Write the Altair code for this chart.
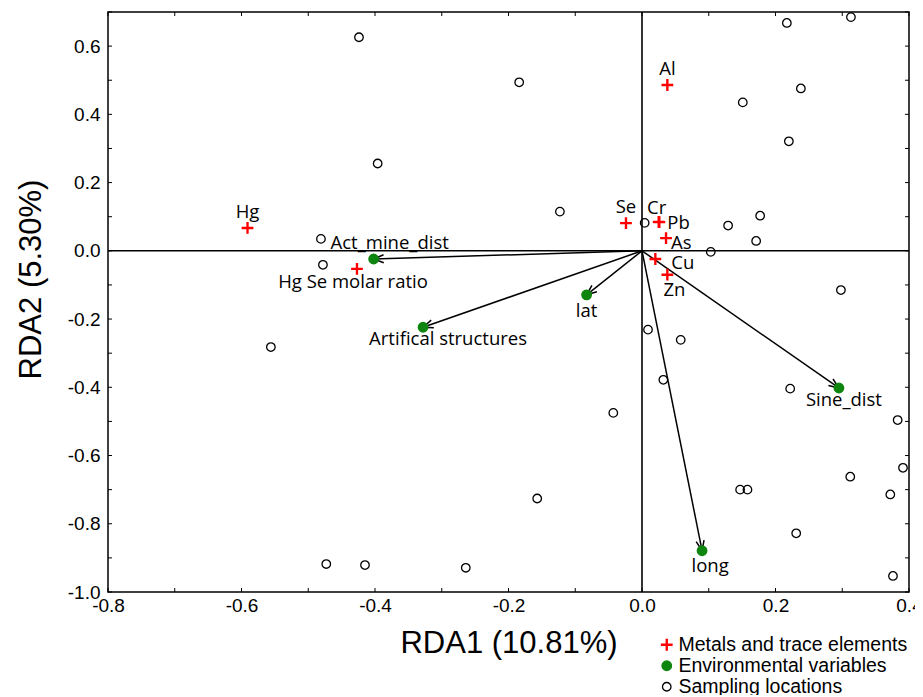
import math
import altair as alt
import pandas as pd

# ---------------- data ----------------
site_x = [-0.424, -0.184, -0.396, -0.123, -0.481, -0.478, -0.556, 0.004, 0.217, 0.313,
          0.151, 0.238, 0.220, 0.177, 0.129, 0.171, 0.103, 0.298, 0.009, 0.058,
          0.032, -0.043, 0.222, 0.383, 0.391, 0.312, 0.372, 0.147, 0.158, 0.231,
          0.376, -0.157, -0.473, -0.415, -0.264]
site_y = [0.626, 0.494, 0.256, 0.115, 0.035, -0.041, -0.282, 0.082, 0.668, 0.685,
          0.435, 0.476, 0.321, 0.103, 0.074, 0.029, -0.003, -0.115, -0.231, -0.261,
          -0.378, -0.475, -0.404, -0.496, -0.636, -0.662, -0.714, -0.700, -0.700, -0.828,
          -0.953, -0.726, -0.918, -0.921, -0.929]

metal_names = ["Al", "Se", "Cr", "Pb", "As", "Cu", "Zn", "Hg", "Hg Se molar ratio"]
metal_x = [0.038, -0.024, 0.025, 0.026, 0.036, 0.020, 0.038, -0.591, -0.427]
metal_y = [0.486, 0.081, 0.085, 0.084, 0.037, -0.024, -0.070, 0.067, -0.053]

env_names = ["Act_mine_dist", "lat", "Artifical structures", "Sine_dist", "long"]
env_x = [-0.402, -0.083, -0.328, 0.295, 0.090]
env_y = [-0.024, -0.129, -0.224, -0.402, -0.879]

groups = ["Metals and trace elements", "Environmental variables", "Sampling locations"]

x_ticks_major = [-0.8, -0.6, -0.4, -0.2, 0.0, 0.2, 0.4]
y_ticks_major = [-1.0, -0.8, -0.6, -0.4, -0.2, 0.0, 0.2, 0.4, 0.6]
x_ticks_all = [-0.8, -0.7, -0.6, -0.5, -0.4, -0.3, -0.2, -0.1, 0.0, 0.1, 0.2, 0.3, 0.4]
y_ticks_all = [-1.0, -0.9, -0.8, -0.7, -0.6, -0.5, -0.4, -0.3, -0.2, -0.1, 0.0,
               0.1, 0.2, 0.3, 0.4, 0.5, 0.6, 0.7]

# ---------------- styling ----------------
W, H = 801, 580
XDOM, YDOM = [-0.8, 0.4], [-1.0, 0.7]
RED, GREEN = "#ff0000", "#0e850e"
LABEL_FONT = "Open Sans"
AXIS_FONT = "Liberation Sans"
PLUS = "M-1,-0.1H1V0.1H-1ZM-0.1,-1H0.1V1H-0.1Z"
ARROW = "M-0.4,1L0,0L0.4,1"
HYPHEN = "replace(format(datum.value, '.1f'), '\u2212', '-')"

label_style = {
    "Al": (0, -16, "center"),
    "Se": (0, -16, "center"),
    "Cr": (-2, -14, "center"),
    "Pb": (8, 1, "left"),
    "As": (5, 5, "left"),
    "Cu": (16, 4, "left"),
    "Zn": (7, 15, "center"),
    "Hg": (0, -16, "center"),
    "Hg Se molar ratio": (-4, 13, "center"),
    "Act_mine_dist": (16, -16, "center"),
    "lat": (0, 16, "center"),
    "Artifical structures": (25, 12, "center"),
    "Sine_dist": (5, 12, "center"),
    "long": (8, 15, "center"),
}

# ---------------- tables ----------------
sites = pd.DataFrame({"x": site_x, "y": site_y, "name": "", "group": groups[2]})
metals = pd.DataFrame({"x": metal_x, "y": metal_y, "name": metal_names, "group": groups[0]})
envs = pd.DataFrame({"x": env_x, "y": env_y, "name": env_names, "group": groups[1]})
points = pd.concat([metals, sites, envs], ignore_index=True)

sx, sy = W / (XDOM[1] - XDOM[0]), H / (YDOM[1] - YDOM[0])
arrows = envs.copy()
arrows["x0"] = 0.0
arrows["y0"] = 0.0
arrows["angle"] = [(math.degrees(math.atan2(a * sx, b * sy)) + 360) % 360
                   for a, b in zip(env_x, env_y)]

xt = pd.DataFrame({"x": x_ticks_all})
yt = pd.DataFrame({"y": y_ticks_all})
zero = pd.DataFrame({"x": [0.0], "y": [0.0]})

xscale = alt.Scale(domain=XDOM, nice=False, zero=False)
yscale = alt.Scale(domain=YDOM, nice=False, zero=False)

x_axis = alt.Axis(values=x_ticks_major, labelExpr=HYPHEN, title="RDA1 (10.81%)",
                  tickSize=0, domain=False, grid=False, labelPadding=4,
                  titlePadding=13, labelFlush=False)
y_axis = alt.Axis(values=y_ticks_major, labelExpr=HYPHEN, title="RDA2 (5.30%)",
                  tickSize=0, domain=False, grid=False, labelPadding=8,
                  titlePadding=20, titleY=267, labelFlush=False)


def X(f):
    return alt.X(f, type="quantitative", scale=xscale, axis=x_axis)


def Y(f):
    return alt.Y(f, type="quantitative", scale=yscale, axis=y_axis)


# ---------------- layers ----------------
tick_b = alt.Chart(xt).mark_rule(color="black", strokeWidth=1).encode(
    x=X("x"), y=alt.value(H), y2=alt.value(H - 4))
tick_t = alt.Chart(xt).mark_rule(color="black", strokeWidth=1).encode(
    x=X("x"), y=alt.value(0), y2=alt.value(4))
tick_l = alt.Chart(yt).mark_rule(color="black", strokeWidth=1).encode(
    y=Y("y"), x=alt.value(0), x2=alt.value(4))
tick_r = alt.Chart(yt).mark_rule(color="black", strokeWidth=1).encode(
    y=Y("y"), x=alt.value(W), x2=alt.value(W - 4))

zero_v = alt.Chart(zero).mark_rule(color="black", strokeWidth=1.6).encode(x=X("x"))
zero_h = alt.Chart(zero).mark_rule(color="black", strokeWidth=1.6).encode(y=Y("y"))

arrow_lines = alt.Chart(arrows).mark_rule(color="black", strokeWidth=1.5).encode(
    x=X("x0"), y=Y("y0"), x2="x", y2="y")
arrow_heads = alt.Chart(arrows).mark_point(
    shape=ARROW, filled=False, stroke="black", strokeWidth=1.5, size=400, opacity=1
).encode(x=X("x"), y=Y("y"), angle=alt.Angle("angle:Q", scale=None))

pts = alt.Chart(points).mark_point(opacity=1, strokeWidth=1.3).encode(
    x=X("x"), y=Y("y"),
    shape=alt.Shape("group:N", title=None,
                    scale=alt.Scale(domain=groups, range=[PLUS, "circle", "circle"])),
    fill=alt.Fill("group:N", title=None,
                  scale=alt.Scale(domain=groups, range=[RED, GREEN, "transparent"])),
    stroke=alt.Stroke("group:N", title=None,
                      scale=alt.Scale(domain=groups, range=[RED, GREEN, "black"])),
    size=alt.Size("group:N", title=None,
                  scale=alt.Scale(domain=groups, range=[110, 72, 85])),
)

labels = []
for nm, (dx, dy, al) in label_style.items():
    labels.append(
        alt.Chart(points).transform_filter(alt.datum.name == nm).mark_text(
            dx=dx, dy=dy, align=al, baseline="middle", font=LABEL_FONT,
            fontSize=18.5, color="black"
        ).encode(x=X("x"), y=Y("y"), text="name:N")
    )

chart = alt.layer(
    tick_b, tick_t, tick_l, tick_r, zero_v, zero_h, arrow_lines, arrow_heads, pts, *labels
).properties(
    width=W, height=H,
    autosize=alt.AutoSizeParams(type="none"),
    padding={"left": 100, "top": 4, "right": 6, "bottom": 103},
).configure_view(
    stroke="black", strokeWidth=1.5
).configure_axis(
    labelFont=AXIS_FONT, labelFontSize=19, labelColor="black",
    titleFont=AXIS_FONT, titleFontSize=31, titleFontWeight="normal", titleColor="black",
).configure_legend(
    orient="none", legendX=549, legendY=623, labelFont=AXIS_FONT, labelFontSize=19.5,
    labelColor="black", rowPadding=0, labelOffset=2, padding=0, symbolStrokeWidth=1.3,
    labelLimit=0,
)

chart.save("out.html", embed_options={"renderer": "svg", "actions": False})
